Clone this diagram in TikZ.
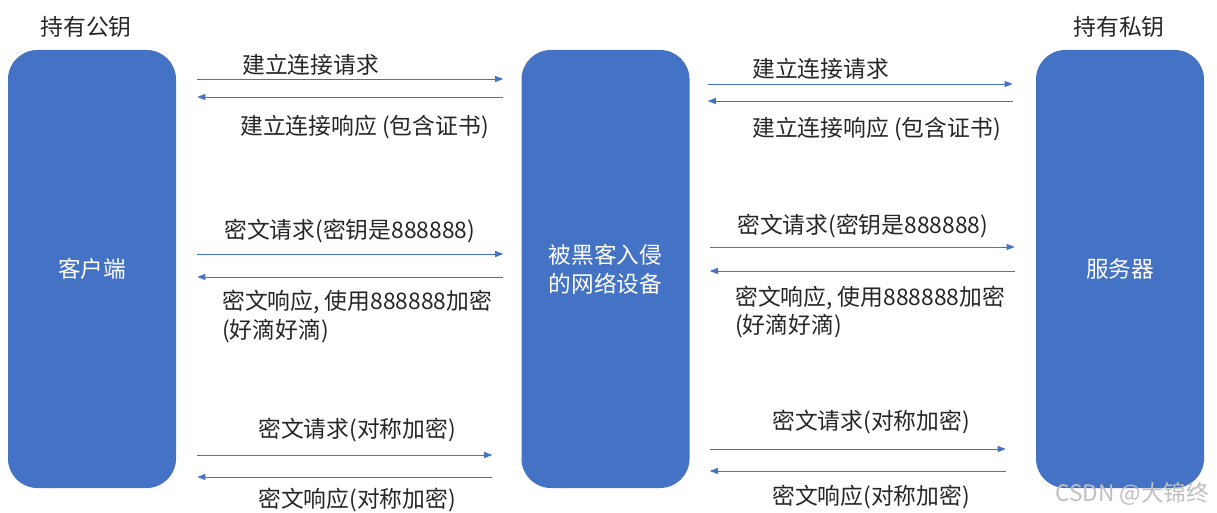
\documentclass[tikz,border=0pt]{standalone}
\usepackage{fontspec}
\setmainfont{Noto Sans CJK SC}
\usetikzlibrary{arrows.meta}
\definecolor{boxblue}{HTML}{4472C4}
\definecolor{txt}{HTML}{262626}
\begin{document}
\begin{tikzpicture}[x=0.75pt,y=-0.75pt,
  blk/.style={fill=boxblue,draw=none,rounded corners=22pt,minimum width=126pt,minimum height=328.5pt,inner sep=0pt,text=white,font=\fontsize{17pt}{21.5pt}\selectfont,align=center},
  lbl/.style={text=txt,font=\fontsize{17.1pt}{21.5pt}\selectfont,inner sep=0pt,align=left},
  arr/.style={draw=boxblue,line width=0.7pt,-{Triangle[length=6pt,width=4.5pt]}}]
\useasboundingbox (0,0) rectangle (1217,513);
\node[blk] (cl) at (92,269) {客户端};
\node[blk] (md) at (605.5,269) {被黑客入侵\\的网络设备};
\node[blk] (sv) at (1120,269) {服务器};
\node[lbl] (pub) at (86,27) {持有公钥};
\node[lbl] (pri) at (1119,27) {持有私钥};
% left side arrows
\draw[arr,shorten <=15.75pt,shorten >=13.5pt] (cl.east |- 0,79) -- (md.west |- 0,79);
\draw[arr,shorten <=13.5pt,shorten >=15.75pt] (md.west |- 0,97) -- (cl.east |- 0,97);
\draw[arr,shorten <=15.75pt,shorten >=13.5pt] (cl.east |- 0,254) -- (md.west |- 0,254);
\draw[arr,shorten <=13.5pt,shorten >=15.75pt] (md.west |- 0,277) -- (cl.east |- 0,277);
\draw[arr,shorten <=15.75pt,shorten >=21.75pt] (cl.east |- 0,455) -- (md.west |- 0,455);
\draw[arr,shorten <=21.75pt,shorten >=15.75pt] (md.west |- 0,477) -- (cl.east |- 0,477);
\node[lbl,anchor=west] (l1) at (242,65) {建立连接请求};
\node[lbl,anchor=west] (l2) at (240,127) {建立连接响应 (包含证书)};
\node[lbl,anchor=west] (l3) at (224,231) {密文请求(密钥是888888)};
\node[lbl,anchor=west] (l4) at (222,302) {密文响应, 使用888888加密};
\node[lbl,anchor=west] (l4b) at (222,331) {(好滴好滴)};
\node[lbl,anchor=west] (l5) at (258,430) {密文请求(对称加密)};
\node[lbl,anchor=west] (l6) at (258,500) {密文响应(对称加密)};
% right side arrows
\draw[arr,shorten <=13.5pt,shorten >=17.25pt] (md.east |- 0,84) -- (sv.west |- 0,84);
\draw[arr,shorten <=17.25pt,shorten >=13.5pt] (sv.west |- 0,101) -- (md.east |- 0,101);
\draw[arr,shorten <=15pt,shorten >=15.75pt] (md.east |- 0,247) -- (sv.west |- 0,247);
\draw[arr,shorten <=15.75pt,shorten >=15pt] (sv.west |- 0,271) -- (md.east |- 0,271);
\draw[arr,shorten <=15pt,shorten >=22.5pt] (md.east |- 0,449) -- (sv.west |- 0,449);
\draw[arr,shorten <=22.5pt,shorten >=15pt] (sv.west |- 0,471) -- (md.east |- 0,471);
\node[lbl,anchor=west] (r1) at (752,69) {建立连接请求};
\node[lbl,anchor=west] (r2) at (752,129) {建立连接响应 (包含证书)};
\node[lbl,anchor=west] (r3) at (737,226) {密文请求(密钥是888888)};
\node[lbl,anchor=west] (r4) at (735,298) {密文响应, 使用888888加密};
\node[lbl,anchor=west] (r4b) at (735,326) {(好滴好滴)};
\node[lbl,anchor=west] (r5) at (772,422) {密文请求(对称加密)};
\node[lbl,anchor=west] (r6) at (772,497) {密文响应(对称加密)};
% watermark
\node[anchor=west,inner sep=0pt,text=black!25,font=\fontsize{17pt}{20pt}\selectfont] (wm) at (1055,494) {CSDN @大锦终};
\end{tikzpicture}
\end{document}
